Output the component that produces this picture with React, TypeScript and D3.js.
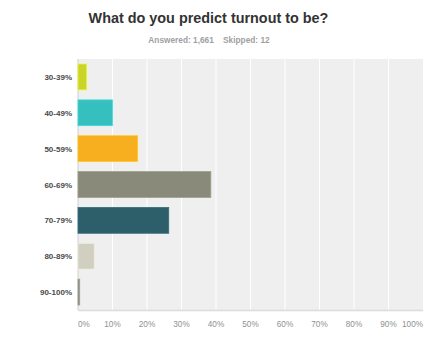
import React from "react";
import * as d3 from "d3";

const categories = ["30-39%", "40-49%", "50-59%", "60-69%", "70-79%", "80-89%", "90-100%"];
const values = [2.5, 10.0, 17.3, 38.5, 26.3, 4.7, 0.5];
const colors = ["#cad52a", "#35bfbf", "#f7ae1f", "#898a79", "#2d5f6b", "#d0cfc0", "#8a8a80"];
const ticks = [0, 10, 20, 30, 40, 50, 60, 70, 80, 90, 100];
const title = "What do you predict turnout to be?";
const subtitle = "Answered: 1,661\u00a0\u00a0\u00a0\u00a0Skipped: 12";

export default function App() {
  const W = 440, H = 346;
  const left = 78, right = 423, top = 59, bottom = 310;
  const x = d3.scaleLinear().domain([0, 100]).range([left, right]);
  const y = d3.scaleBand<string>().domain(categories).range([top, bottom]).paddingInner(0.28).paddingOuter(0.14);
  const font = "'Liberation Sans', Arial, Helvetica, sans-serif";
  return (
    <svg width={W} height={H} style={{ position: "absolute", left: 0, top: 0, background: "#fff" }} fontFamily={font}>
      <text x={208.5} y={22.5} textAnchor="middle" fontSize={14.4} fontWeight="bold" fill="#333">{title}</text>
      <text x={209} y={42.5} textAnchor="middle" fontSize={8.3} fontWeight="bold" fill="#a0a0a0">{subtitle}</text>
      <rect x={left} y={top} width={right - left} height={bottom - top} fill="#efefef" />
      {ticks.slice(1, -1).map((t) => (
        <line key={t} x1={x(t)} x2={x(t)} y1={top} y2={bottom} stroke="#fff" strokeWidth={1} />
      ))}
      <line x1={left} x2={left} y1={top} y2={bottom} stroke="#d0d0d0" strokeWidth={1} />
      <line x1={left} x2={right} y1={bottom + 0.5} y2={bottom + 0.5} stroke="#dcdcdc" strokeWidth={1.5} />
      {categories.map((c, i) => (
        <g key={c}>
          <rect
            x={x(0)}
            y={y(c)!}
            width={Math.max(x(values[i]) - x(0), 1.5)}
            height={y.bandwidth()}
            fill={colors[i]}
            stroke={d3.color(colors[i])!.brighter(0.4).toString()}
            strokeWidth={0.8}
          />
          <text x={72} y={y(c)! + y.bandwidth() / 2 + 3} textAnchor="end" fontSize={8} fontWeight="bold" fill="#4a4a4a">{c}</text>
        </g>
      ))}
      {ticks.map((t, i) => (
        <text
          key={t}
          x={x(t)}
          y={327}
          textAnchor={i === 0 ? "start" : i === ticks.length - 1 ? "end" : "middle"}
          fontSize={8.2}
          fill="#909090"
        >
          {t}%
        </text>
      ))}
    </svg>
  );
}
